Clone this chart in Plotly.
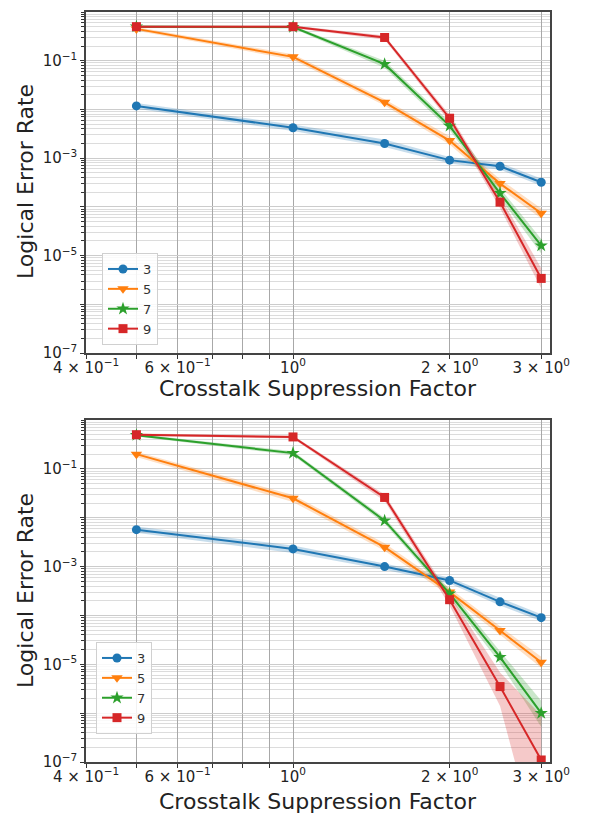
import plotly.graph_objects as go

x_vals = [0.5, 1.0, 1.5, 2.0, 2.5, 3.0]
labels = ["3", "5", "7", "9"]

# Top panel
top_vals = {
    "3": [0.0118, 0.0042, 0.0020, 0.00091, 0.00068, 0.00032],
    "5": [0.45, 0.12, 0.014, 0.0023, 0.00030, 0.000074],
    "7": [0.5, 0.49, 0.085, 0.0046, 0.00019, 0.000016],
    "9": [0.5, 0.5, 0.30, 0.0066, 0.000125, 0.0000034],
}
top_lo = {
    "3": [0.0103, 0.0036, 0.0017, 0.00078, 0.00058, 0.00027],
    "5": [0.41, 0.105, 0.0120, 0.0019, 0.00024, 0.000058],
    "7": [0.47, 0.46, 0.072, 0.0038, 0.00015, 0.000011],
    "9": [0.47, 0.47, 0.27, 0.0056, 0.000095, 0.0000021],
}
top_hi = {
    "3": [0.0135, 0.0049, 0.0024, 0.00106, 0.00080, 0.00038],
    "5": [0.49, 0.135, 0.0162, 0.0028, 0.00037, 0.000093],
    "7": [0.53, 0.52, 0.10, 0.0055, 0.00024, 0.000022],
    "9": [0.53, 0.53, 0.33, 0.0078, 0.000165, 0.0000055],
}

# Bottom panel
bot_vals = {
    "3": [0.0057, 0.0023, 0.001, 0.00052, 0.00019, 0.00009],
    "5": [0.2, 0.025, 0.0025, 0.0003, 0.000049, 0.000011],
    "7": [0.49, 0.21, 0.0087, 0.00028, 0.000014, 0.0000010],
    "9": [0.5, 0.45, 0.026, 0.00021, 0.0000035, 0.00000011],
}
bot_lo = {
    "3": [0.0049, 0.0019, 0.00086, 0.00045, 0.00016, 0.000076],
    "5": [0.175, 0.021, 0.0021, 0.00025, 0.000040, 0.0000085],
    "7": [0.46, 0.19, 0.0076, 0.00023, 0.0000105, 0.00000052],
    "9": [0.47, 0.42, 0.022, 0.00016, 0.0000014, 0.000000001],
}
bot_hi = {
    "3": [0.0066, 0.0027, 0.00116, 0.00060, 0.00023, 0.000106],
    "5": [0.225, 0.029, 0.0030, 0.00036, 0.000060, 0.0000142],
    "7": [0.52, 0.23, 0.0099, 0.00034, 0.0000185, 0.0000018],
    "9": [0.53, 0.48, 0.030, 0.00027, 0.0000068, 0.0000009],
}

x_tickvals = [0.4, 0.5, 0.6, 0.7, 0.8, 0.9, 1.0, 2.0, 3.0]
x_ticktext = ["4 × 10<sup>−1</sup>", "", "6 × 10<sup>−1</sup>", "", "", "",
              "10<sup>0</sup>", "2 × 10<sup>0</sup>", "3 × 10<sup>0</sup>"]
y_tickvals = [1e-7, 1e-6, 1e-5, 1e-4, 1e-3, 1e-2, 1e-1]
y_ticktext = ["10<sup>−7</sup>", "", "10<sup>−5</sup>", "", "10<sup>−3</sup>", "",
              "10<sup>−1</sup>"]
x_title = "Crosstalk Suppression Factor"
y_title = "Logical Error Rate"

colors = {"3": "#1f77b4", "5": "#ff7f0e", "7": "#2ca02c", "9": "#d62728"}
fills = {"3": "rgba(31,119,180,0.25)", "5": "rgba(255,127,14,0.25)",
         "7": "rgba(44,160,44,0.25)", "9": "rgba(214,39,40,0.25)"}
symbols = {"3": "circle", "5": "triangle-down", "7": "star", "9": "square"}
msize = {"3": 9, "5": 10, "7": 10, "9": 9}

fig = go.Figure()

panels = [
    ("x", "y", "legend", top_vals, top_lo, top_hi),
    ("x2", "y2", "legend2", bot_vals, bot_lo, bot_hi),
]
for xa, ya, leg, vals, lo, hi in panels:
    for lab in labels:
        fig.add_trace(go.Scatter(
            x=x_vals + x_vals[::-1], y=hi[lab] + lo[lab][::-1],
            fill="toself", fillcolor=fills[lab], line=dict(width=0),
            mode="lines", hoverinfo="skip", showlegend=False,
            xaxis=xa, yaxis=ya))
    for lab in labels:
        fig.add_trace(go.Scatter(
            x=x_vals, y=vals[lab], mode="lines+markers", name=lab,
            line=dict(color=colors[lab], width=2),
            marker=dict(symbol=symbols[lab], size=msize[lab], color=colors[lab]),
            xaxis=xa, yaxis=ya, legend=leg))

font_family = "DejaVu Sans"
xaxis_common = dict(
    type="log", range=[-0.39794, 0.494], automargin=False,
    tickmode="array", tickvals=x_tickvals, ticktext=x_ticktext,
    showgrid=True, gridcolor="#a8a8a8", gridwidth=1,
    showline=True, linecolor="#444", linewidth=1.5, mirror=True,
    ticks="outside", ticklen=4, tickcolor="#333",
    ticklabelstandoff=-4,
    tickfont=dict(size=15, color="#222", family=font_family),
    zeroline=False,
)
yaxis_common = dict(
    type="log", range=[-7, 0], automargin=False,
    tickmode="array", tickvals=y_tickvals, ticktext=y_ticktext,
    showgrid=True, gridcolor="#cccccc", gridwidth=1,
    minor=dict(dtick="D1", showgrid=True, gridcolor="#dcdcdc", gridwidth=1,
               ticks="outside", ticklen=3, tickcolor="#333"),
    showline=True, linecolor="#444", linewidth=1.5, mirror=True,
    ticks="outside", ticklen=4, tickcolor="#333",
    tickfont=dict(size=15, color="#222", family=font_family),
    zeroline=False,
)

legend_common = dict(
    bgcolor="rgba(255,255,255,0.85)", bordercolor="#d0d0d0", borderwidth=1,
    font=dict(size=13, color="#333", family=font_family),
    xanchor="left", yanchor="top", tracegroupgap=0, itemwidth=30,
)

# The page body has an 8px margin; figure is sized to the remaining area.
OFF = 8
W, H = 591 - OFF, 814 - OFF
M_L, M_R, M_T, M_B = 86 - OFF, 41, 12 - OFF, 52
plot_h = H - M_T - M_B
plot_w = W - M_L - M_R


def py(page_y):
    return (H - M_B - (page_y - OFF)) / plot_h


def px(page_x):
    return ((page_x - OFF) - M_L) / plot_w


title_font = dict(size=22, color="#222", family=font_family)
annotations = [
    dict(text=x_title, x=0.5, xref="paper", y=py(388), yref="paper",
         xanchor="center", yanchor="middle", showarrow=False, font=title_font),
    dict(text=x_title, x=0.5, xref="paper", y=py(801), yref="paper",
         xanchor="center", yanchor="middle", showarrow=False, font=title_font),
    dict(text=y_title, x=px(25), xref="paper", y=py(182), yref="paper",
         textangle=-90, xanchor="center", yanchor="middle", showarrow=False,
         font=title_font),
    dict(text=y_title, x=px(25), xref="paper", y=py(591), yref="paper",
         textangle=-90, xanchor="center", yanchor="middle", showarrow=False,
         font=title_font),
]

fig.update_layout(
    width=W, height=H,
    margin=dict(l=M_L, r=M_R, t=M_T, b=M_B),
    paper_bgcolor="white", plot_bgcolor="white",
    font=dict(family=font_family),
    xaxis=dict(domain=[0, 1], anchor="y", **xaxis_common),
    yaxis=dict(domain=[py(353), 1], anchor="x", **yaxis_common),
    xaxis2=dict(domain=[0, 1], anchor="y2", **xaxis_common),
    yaxis2=dict(domain=[0, py(420)], anchor="x2", **yaxis_common),
    legend=dict(x=px(102), y=py(253), **legend_common),
    legend2=dict(x=px(96), y=py(642), **legend_common),
    annotations=annotations,
    showlegend=True,
)

fig.write_html("out.html")
